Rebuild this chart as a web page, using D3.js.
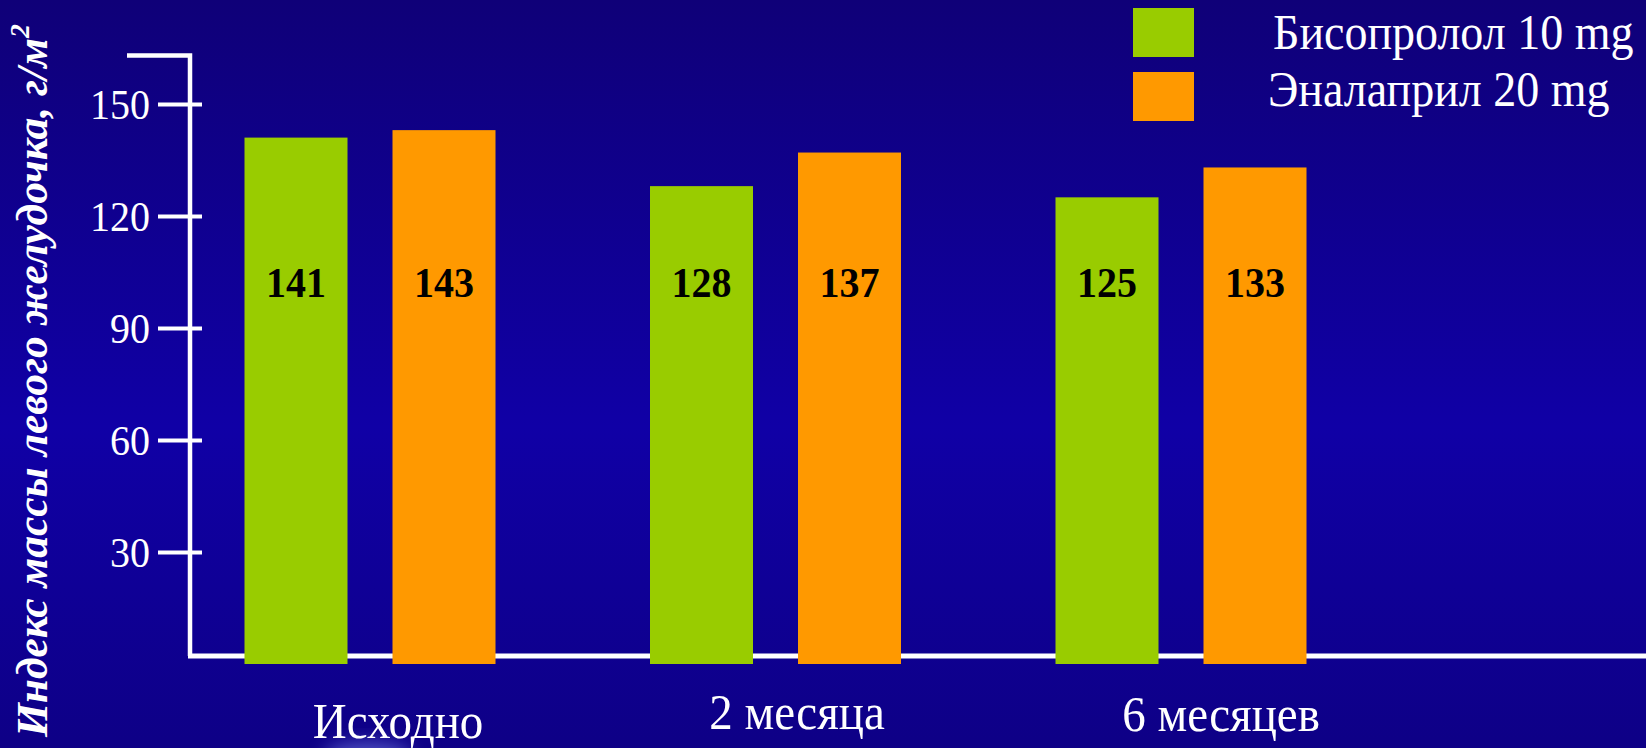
<!DOCTYPE html>
<html>
<head>
<meta charset="utf-8">
<script src="https://cdn.jsdelivr.net/npm/d3@7"></script>
<style>
  html, body { margin: 0; padding: 0; background: #10009a; overflow: hidden; }
  svg { display: block; }
  text { font-family: "Liberation Serif", "Times New Roman", serif; }
</style>
</head>
<body>
<svg id="chart" width="1646" height="748"></svg>
<script>
// Left ventricular mass index by treatment group and visit
const categories = ["Исходно", "2 месяца", "6 месяцев"];
const seriesNames = ["Бисопролол 10 mg", "Эналаприл 20 mg"];
const bisoprolol = [141, 128, 125];
const enalapril = [143, 137, 133];
const yTicks = [30, 60, 90, 120, 150];
const seriesColors = ["#99CC00", "#FF9900"];
const yTitle = "Индекс массы левого желудочка, г/м";
const yTitleSup = "2";

const W = 1646, H = 748;
const svg = d3.select("#chart");
const stretch = 1.08; // slight vertical stretch of the slide lettering

// background gradient
const defs = svg.append("defs");
const bg = defs.append("linearGradient").attr("id", "bg").attr("x1", 0).attr("y1", 0).attr("x2", 0).attr("y2", 1);
bg.append("stop").attr("offset", "0%").attr("stop-color", "#0f0078");
bg.append("stop").attr("offset", "57%").attr("stop-color", "#1000a6");
bg.append("stop").attr("offset", "100%").attr("stop-color", "#0e0086");
defs.append("filter").attr("id", "glow").attr("x", "-50%").attr("y", "-50%").attr("width", "200%").attr("height", "200%")
  .append("feGaussianBlur").attr("stdDeviation", 9);
svg.append("rect").attr("width", W).attr("height", H).attr("fill", "url(#bg)");
svg.append("ellipse").attr("cx", 368).attr("cy", 756).attr("rx", 44).attr("ry", 14)
  .attr("fill", "#8fa0ff").attr("opacity", 0.5).attr("filter", "url(#glow)");

// scales
const y = d3.scaleLinear().domain([0, 150]).range([664, 104]);
const x = d3.scaleBand().domain(categories).range([244.5, 1461]);
const x1 = d3.scaleBand().domain(seriesNames).range([0, 251]).paddingInner(0.304);

const rows = categories.map((c, i) => ({ category: c, values: [bisoprolol[i], enalapril[i]] }));

// axes frame
const axisX = 190;
const floorY = y(0) - 8;
svg.append("path")
  .attr("d", `M127,${y(163)}H${axisX}V${floorY}`)
  .attr("fill", "none").attr("stroke", "#fff").attr("stroke-width", 4.5);
svg.append("line")
  .attr("x1", axisX - 2).attr("x2", W).attr("y1", floorY).attr("y2", floorY)
  .attr("stroke", "#fff").attr("stroke-width", 5);

// bars (drawn over the baseline)
const groups = svg.append("g").selectAll("g").data(rows).join("g")
  .attr("transform", d => `translate(${x(d.category)},0)`);
groups.selectAll("rect").data(d => d.values.map((v, j) => ({ name: seriesNames[j], value: v, j })))
  .join("rect")
  .attr("x", d => x1(d.name))
  .attr("width", x1.bandwidth())
  .attr("y", d => y(d.value))
  .attr("height", d => y(0) - y(d.value))
  .attr("fill", d => seriesColors[d.j]);

// value labels inside the bars
groups.selectAll("text").data(d => d.values.map((v, j) => ({ name: seriesNames[j], value: v })))
  .join("text")
  .attr("transform", d => `translate(${x1(d.name) + x1.bandwidth() / 2},297) scale(1,${stretch})`)
  .attr("text-anchor", "middle")
  .attr("font-weight", "bold")
  .attr("font-size", 40)
  .attr("fill", "#000")
  .text(d => d.value);

// y ticks
const yAxis = svg.append("g").attr("transform", `translate(${axisX},0)`)
  .call(d3.axisLeft(y).tickValues(yTicks).tickSize(32).tickSizeOuter(0));
yAxis.select(".domain").remove();
yAxis.selectAll(".tick line").attr("x1", 12).attr("x2", -32).attr("stroke", "#fff").attr("stroke-width", 4);
yAxis.selectAll(".tick text")
  .attr("x", null).attr("dy", null)
  .attr("transform", `translate(-40,14) scale(1,${stretch})`)
  .attr("font-family", "Liberation Serif, serif")
  .attr("font-size", 40)
  .attr("fill", "#fff")
  .attr("text-anchor", "end");

// category labels
const catDx = [153.5, 147, 165.5];
const catBase = [738, 729, 731];
svg.append("g").selectAll("text").data(categories).join("text")
  .attr("transform", (d, i) => `translate(${x(d) + catDx[i]},${catBase[i]}) scale(1,${stretch})`)
  .attr("text-anchor", "middle")
  .attr("font-size", 47)
  .attr("fill", "#fff")
  .text(d => d);

// y-axis title
const title = svg.append("text")
  .attr("transform", "translate(47,737) rotate(-90)")
  .attr("font-size", 43.5)
  .attr("font-weight", "bold")
  .attr("font-style", "italic")
  .attr("fill", "#fff");
title.append("tspan").text(yTitle);
title.append("tspan").attr("font-size", 28).attr("dy", -18).text(yTitleSup);

// legend
const legend = svg.append("g").selectAll("g").data(seriesNames).join("g");
legend.append("rect")
  .attr("x", 1133).attr("width", 61)
  .attr("y", (d, i) => [8, 72][i]).attr("height", 49)
  .attr("fill", (d, i) => seriesColors[i]);
legend.append("text")
  .attr("transform", (d, i) => `translate(${[1273, 1268][i]},${[49, 106][i]}) scale(1,${stretch})`)
  .attr("font-size", 46)
  .attr("fill", "#fff")
  .text(d => d);
</script>
</body>
</html>
